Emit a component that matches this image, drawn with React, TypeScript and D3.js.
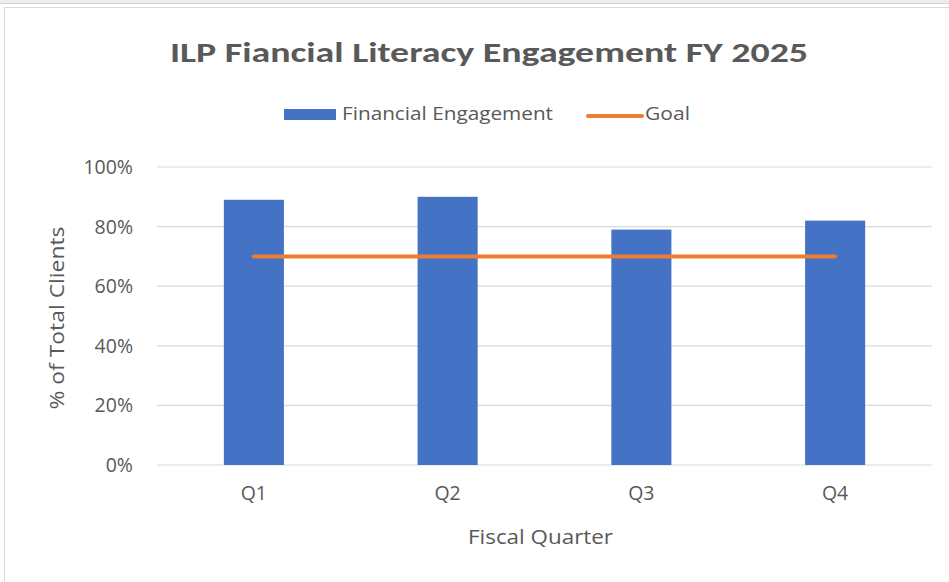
import React from "react";
import * as d3 from "d3";

const quarters = ["Q1", "Q2", "Q3", "Q4"];
const engagement = [0.89, 0.9, 0.79, 0.82];
const goal = [0.7, 0.7, 0.7, 0.7];
const yTicks = [0, 0.2, 0.4, 0.6, 0.8, 1.0];

const WIDTH = 949;
const HEIGHT = 582;
const TITLE_FONT = "Carlito, Calibri, Lato, sans-serif";
const FONT = "'Open Sans', 'Noto Sans', sans-serif";
const TEXT = "#595959";

const App = () => {
  const margin = { top: 167, right: 17, bottom: 117, left: 157 };
  const innerW = WIDTH - margin.left - margin.right;
  const innerH = HEIGHT - margin.top - margin.bottom;

  const x = d3.scaleBand().domain(quarters).range([0, innerW]).paddingInner(0.69).paddingOuter(0.345);
  const y = d3.scaleLinear().domain([0, 1]).range([innerH, 0]);
  const fmt = d3.format(".0%");

  const goalLine = d3
    .line<number>()
    .x((_, i) => x(quarters[i])! + x.bandwidth() / 2)
    .y((d) => y(d));

  return (
    <svg
      width={WIDTH}
      height={HEIGHT}
      style={{ position: "absolute", left: 0, top: 0, background: "#fff" }}
      fontFamily={FONT}
    >
      {/* frame */}
      <rect x={0} y={0} width={WIDTH} height={3} fill="#ececec" />
      <line x1={0} x2={WIDTH} y1={3.5} y2={3.5} stroke="#d4d4d4" />
      <line x1={4} x2={WIDTH} y1={7.5} y2={7.5} stroke="#d9d9d9" />
      <line x1={4.5} x2={4.5} y1={7.5} y2={HEIGHT} stroke="#d9d9d9" />

      <text x={489} y={62} textAnchor="middle" fontFamily={TITLE_FONT} fontSize={29} fontWeight="bold" fill={TEXT} textLength={638} lengthAdjust="spacingAndGlyphs">
        ILP Fiancial Literacy Engagement FY 2025
      </text>

      {/* legend */}
      <rect x={284} y={109} width={52} height={11} fill="#4472C4" />
      <text x={342} y={120} fontSize={18} fill={TEXT} textLength={211} lengthAdjust="spacingAndGlyphs">
        Financial Engagement
      </text>
      <line x1={588} x2={642} y1={116} y2={116} stroke="#ED7D31" strokeWidth={4} strokeLinecap="round" />
      <text x={645} y={120} fontSize={18} fill={TEXT} textLength={45} lengthAdjust="spacingAndGlyphs">
        Goal
      </text>

      <g transform={`translate(${margin.left},${margin.top})`}>
        {yTicks.map((t) => (
          <g key={t}>
            <line x1={0} x2={innerW} y1={y(t)} y2={y(t)} stroke="#d9d9d9" strokeWidth={1.2} />
            <text x={-24} y={y(t)} dy="0.36em" textAnchor="end" fontSize={19.5} fill={TEXT}>
              {fmt(t)}
            </text>
          </g>
        ))}

        {engagement.map((v, i) => (
          <rect
            key={quarters[i]}
            x={x(quarters[i])}
            y={y(v)}
            width={x.bandwidth()}
            height={innerH - y(v)}
            fill="#4472C4"
          />
        ))}

        <path d={goalLine(goal) || ""} fill="none" stroke="#ED7D31" strokeWidth={4} strokeLinecap="round" />

        {quarters.map((q) => (
          <text key={q} x={x(q)! + x.bandwidth() / 2} y={innerH + 35} textAnchor="middle" fontSize={19.5} fill={TEXT}>
            {q}
          </text>
        ))}

        <text x={innerW / 2 - 4} y={innerH + 79} textAnchor="middle" fontSize={19.5} fill={TEXT} textLength={145} lengthAdjust="spacingAndGlyphs">
          Fiscal Quarter
        </text>
      </g>

      <text
        transform={`translate(64,${318}) rotate(-90)`}
        textAnchor="middle"
        fontSize={19.5}
        fill={TEXT}
        textLength={183}
        lengthAdjust="spacingAndGlyphs"
      >
        % of Total Clients
      </text>
    </svg>
  );
};

export default App;
